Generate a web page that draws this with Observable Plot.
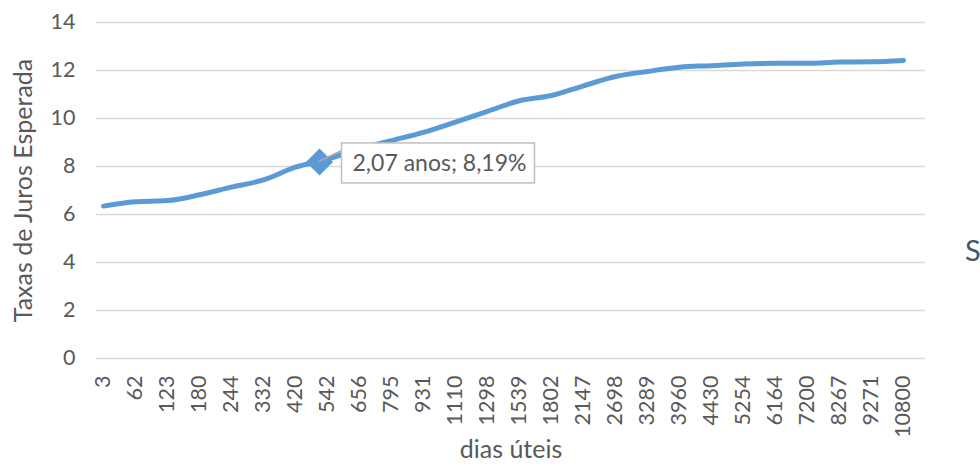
<!DOCTYPE html>
<html><head><meta charset="utf-8">
<script src="https://cdn.jsdelivr.net/npm/d3@7"></script>
<script src="https://cdn.jsdelivr.net/npm/@observablehq/plot@0.6"></script>
<style>
html,body{margin:0;padding:0;background:#fff;overflow:hidden;width:980px;height:468px;}
#wrap{position:relative;width:980px;height:468px;}
#s{position:absolute;left:965px;top:235px;font-family:"Lato";font-size:29px;line-height:1;color:#44546a;}
</style></head><body><div id="wrap"><div id="chart"></div><div id="s">S</div></div>
<script>
// dias úteis (categorias do eixo x)
const days = ["3","62","123","180","244","332","420","542","656","795","931","1110","1298","1539","1802","2147","2698","3289","3960","4430","5254","6164","7200","8267","9271","10800"];
// taxa de juros esperada (%)
const rates = [6.35,6.53,6.58,6.82,7.14,7.44,7.97,8.30,8.74,9.08,9.42,9.85,10.30,10.74,10.96,11.36,11.75,11.96,12.14,12.20,12.27,12.30,12.30,12.35,12.36,12.42];
const yTicks = [0,2,4,6,8,10,12,14];
// ponto destacado: 2,07 anos; 8,19%
const annotDay = ["542"];
const annotRate = [8.19];
const annotLabel = ["2,07 anos; 8,19%"];
const yTitle = "Taxas de Juros Esperada";
const xTitle = "dias úteis";

const data = days.map((d, i) => ({day: d, rate: rates[i]}));
const annot = annotDay.map((d, i) => ({day: d, rate: annotRate[i], label: annotLabel[i]}));

const blue = "#5b9bd5", gray = "#595959";
const markerDx = -8;

const chart = Plot.plot({
  width: 980, height: 468,
  marginLeft: 96, marginRight: 55, marginTop: 22, marginBottom: 110,
  style: {fontFamily: "Lato", fontSize: "21px", color: gray, background: "#fff"},
  x: {type: "point", domain: days, range: [100, 905], padding: 0},
  y: {domain: [0, 14]},
  marks: [
    Plot.gridY(yTicks, {stroke: "#d9d9d9", strokeOpacity: 1, strokeWidth: 1.3}),
    Plot.line(data, {x: "day", y: "rate", stroke: blue, strokeWidth: 5, curve: "monotone-x"}),
    Plot.dot(annot, {x: "day", y: "rate", dx: markerDx, symbol: "diamond2", r: 12.2, fill: blue, stroke: "none"}),
    Plot.text(annot, {x: "day", y: "rate", text: "label", dx: 25, dy: 2, textAnchor: "start", fontSize: 23, fill: gray}),
    Plot.axisX({tickRotate: -90, tickSize: 0, tickPadding: 17, fontSize: 21.5, label: null}),
    Plot.axisY(yTicks, {tickSize: 0, tickPadding: 21, fontSize: 21.5, label: null}),
    Plot.text([yTitle], {frameAnchor: "left", rotate: -90, dx: -73, textAnchor: "middle", fontSize: 25, fill: gray}),
    Plot.text([xTitle], {frameAnchor: "bottom", dy: 99, fontSize: 25, fill: gray})
  ]
});
document.getElementById("chart").append(chart);

// caixa do rótulo e linha de chamada
const sx = chart.scale("x"), sy = chart.scale("y");
const mx = sx.apply(annotDay[0]) + markerDx, my = sy.apply(annotRate[0]);
const tnode = Array.from(chart.querySelectorAll("text")).find(t => t.textContent === annotLabel[0]);
if (tnode) {
  let ag = tnode.parentNode;
  while (ag.parentNode !== chart) ag = ag.parentNode;
  const sr = chart.getBoundingClientRect();
  const tr = tnode.getBoundingClientRect();
  const bx = tr.left - sr.left - 11, bw = tr.width + 19;
  const by = my - 18.5, bh = 40;
  const g = d3.create("svg:g");
  g.append("line").attr("x1", mx).attr("y1", my).attr("x2", bx).attr("y2", by + 8)
    .attr("stroke", "#a6a6a6").attr("stroke-width", 2);
  g.append("rect").attr("x", bx).attr("y", by).attr("width", bw).attr("height", bh)
    .attr("fill", "#fff").attr("stroke", "#bfbfbf").attr("stroke-width", 1.5);
  chart.insertBefore(g.node(), ag);
}
</script></body></html>
